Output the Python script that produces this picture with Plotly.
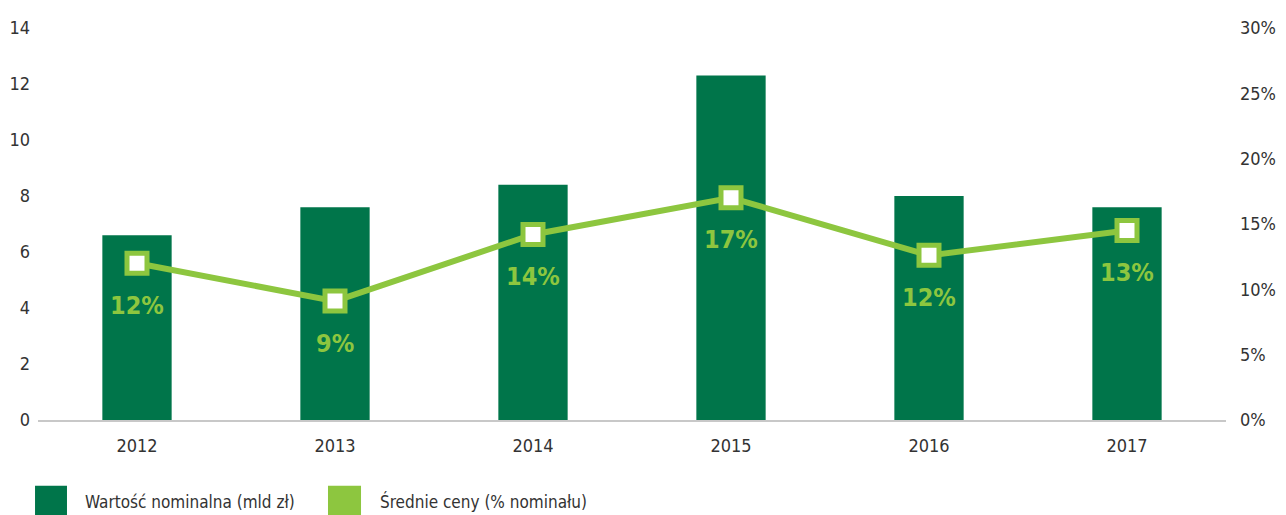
import plotly.graph_objects as go

years = ["2012", "2013", "2014", "2015", "2016", "2017"]
nominal_value = [6.6, 7.6, 8.4, 12.3, 8.0, 7.6]
avg_price = [0.12, 0.091, 0.142, 0.17, 0.126, 0.145]
price_labels = ["12%", "9%", "14%", "17%", "12%", "13%"]
legend_labels = ["Wartość nominalna (mld zł)", "Średnie ceny (% nominału)"]

dark_green = "#00754a"
light_green = "#8dc63f"
font_family = "DejaVu Sans Condensed, Roboto, sans-serif"
text_color = "#333333"

fig = go.Figure()
fig.add_trace(go.Bar(
    x=years, y=nominal_value, name=legend_labels[0],
    marker=dict(color=dark_green, line=dict(width=0)), width=0.35,
    yaxis="y", showlegend=False,
))
fig.add_trace(go.Scatter(
    x=years, y=avg_price, mode="lines+markers", showlegend=False,
    name=legend_labels[1],
    line=dict(color=light_green, width=6),
    marker=dict(symbol="square", size=20, color="white",
                line=dict(color=light_green, width=5)),
    yaxis="y2",
))

annotations = []
for i, (v, lab) in enumerate(zip(avg_price, price_labels)):
    annotations.append(dict(
        x=i, y=v, xref="x", yref="y2", text="<b>" + lab + "</b>",
        showarrow=False, yshift=-42,
        font=dict(color=light_green, size=25, family=font_family),
    ))

# manual legend (square swatches)
shapes = []
sw_x = [(-0.0025, 0.0244), (0.2441, 0.2719)]
txt_x = [0.0379, 0.2862]
for i, lab in enumerate(legend_labels):
    col = dark_green if i == 0 else light_green
    shapes.append(dict(type="rect", xref="paper", yref="paper",
                       x0=sw_x[i][0], x1=sw_x[i][1],
                       y0=-0.26, y1=-0.168, fillcolor=col, line=dict(width=0)))
    annotations.append(dict(x=txt_x[i], y=-0.209, xref="paper", yref="paper",
                            text=lab, showarrow=False, xanchor="left",
                            yanchor="middle",
                            font=dict(size=17, color=text_color, family=font_family)))

fig.update_layout(
    width=1278, height=507,
    margin=dict(l=30, r=60, t=20, b=95),
    plot_bgcolor="white", paper_bgcolor="white",
    font=dict(family=font_family, size=18, color=text_color),
    showlegend=False,
    xaxis=dict(type="category", categoryorder="array", categoryarray=years,
               range=[-0.5, len(years) - 0.5], showgrid=False, showline=True,
               linecolor="#c8c8c8", linewidth=2,
               ticks="outside", ticklen=8, tickcolor="rgba(0,0,0,0)",
               tickfont=dict(size=18, color=text_color), automargin=False),
    yaxis=dict(range=[0, 14], dtick=2, showgrid=False, zeroline=False,
               showline=False, ticks="", ticklabelstandoff=7, automargin=False,
               tickfont=dict(size=18, color=text_color)),
    yaxis2=dict(range=[0, 0.30], dtick=0.05, tickformat=".0%", overlaying="y",
                side="right", showgrid=False, zeroline=False, showline=False,
                ticks="", ticklabelstandoff=13, automargin=False,
                tickfont=dict(size=18, color=text_color)),
    annotations=annotations,
    shapes=shapes,
)

fig.write_html("out.html")
